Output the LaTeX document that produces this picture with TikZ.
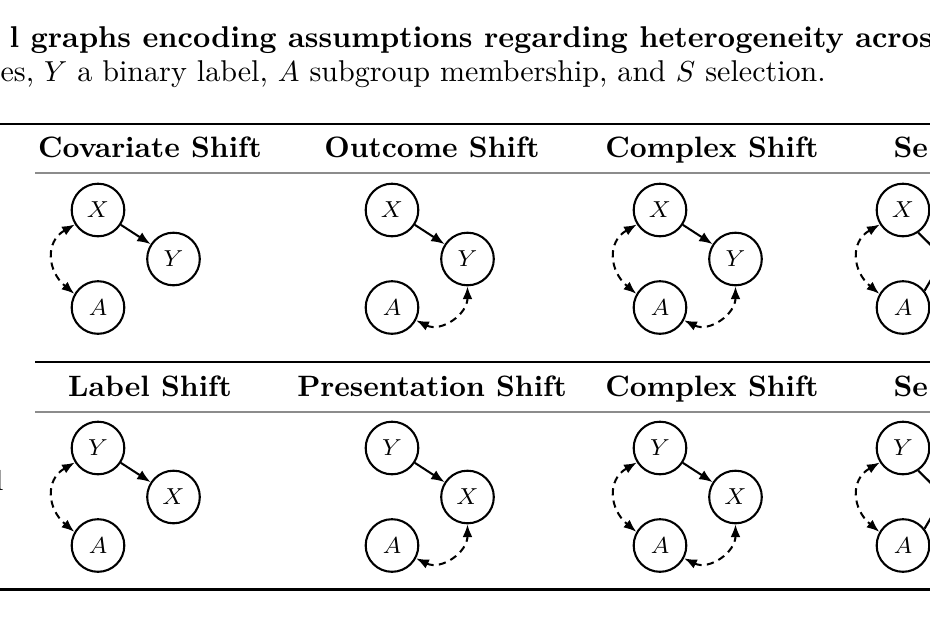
\documentclass[tikz,border=0pt]{standalone}
\usetikzlibrary{arrows.meta}
\begin{document}
\begin{tikzpicture}[x=0.3459pt,y=0.3459pt,
  var/.style={circle,draw,line width=0.72pt,minimum size=18.2pt,inner sep=0pt,font=\fontsize{8.5}{10}\selectfont},
  edge/.style={line width=0.7pt,-{Latex[length=4.6pt,width=3.6pt]}},
  biedge/.style={line width=0.7pt,dash pattern=on 2.5pt off 1.8pt,{Latex[length=4.4pt,width=3.4pt]}-{Latex[length=4.4pt,width=3.4pt]}},
  plainedge/.style={line width=0.75pt},
  hdr/.style={font=\fontsize{10.2}{12}\bfseries,anchor=base,inner sep=0pt},
  captext/.style={anchor=base west,inner sep=0pt,font=\fontsize{10.4}{12.5}\selectfont},
  heavyrule/.style={line width=0.85pt},
  lightrule/.style={line width=0.5pt,black!45},
  darkrule/.style={line width=0.6pt}]
\useasboundingbox (0,0) rectangle (930,-620);
\clip (0,0) rectangle (930,-620);
% caption text
\node[captext,font=\fontsize{10.4}{12.5}\bfseries] (title) at (9,-47) {l graphs encoding assumptions regarding heterogeneity across};
\node[captext] (cap) at (0,-81) {es, $Y$ a binary label, $A$ subgroup membership, and $S$ selection.};
% rules
\draw[heavyrule] (0,-124) -- (930,-124);
\draw[lightrule] (35,-173) -- (930,-173);
\draw[darkrule] (35,-362) -- (930,-362);
\draw[lightrule] (35,-412) -- (930,-412);
\draw[heavyrule] (0,-589.5) -- (930,-589.5);
% row label (cut by the frame, as in the reference)
\node[anchor=base east,inner sep=0pt] (rowlab) at (4,-490) {l};
% headers
\node[hdr] (h1) at (150,-157) {Covariate Shift};
\node[hdr] (h2) at (432,-157) {Outcome Shift};
\node[hdr] (h3) at (712,-157) {Complex Shift};
\node[hdr,anchor=base west] (h4) at (893,-157) {Se};
\node[hdr] (k1) at (150,-396) {Label Shift};
\node[hdr] (k2) at (432,-396) {Presentation Shift};
\node[hdr] (k3) at (712,-396) {Complex Shift};
\node[hdr,anchor=base west] (k4) at (893,-396) {Se};
% ---------- top row ----------
% col 1
\node[var] (X1) at (98,-210) {$X$};
\node[var] (Y1) at (173.5,-259) {$Y$};
\node[var] (A1) at (98,-307.5) {$A$};
\draw[edge] (X1) -- (Y1);
\draw[biedge] (X1.212) .. controls +(210:35) and +(140:35) .. (A1.150);
% col 2
\node[var] (X2) at (392,-210) {$X$};
\node[var] (Y2) at (467.5,-259) {$Y$};
\node[var] (A2) at (392,-307.5) {$A$};
\draw[edge] (X2) -- (Y2);
\draw[biedge] (A2.332) .. controls +(-26:28) and +(270:28) .. (Y2.270);
% col 3
\node[var] (X3) at (660,-210) {$X$};
\node[var] (Y3) at (735.5,-259) {$Y$};
\node[var] (A3) at (660,-307.5) {$A$};
\draw[edge] (X3) -- (Y3);
\draw[biedge] (X3.212) .. controls +(210:35) and +(140:35) .. (A3.150);
\draw[biedge] (A3.332) .. controls +(-26:28) and +(270:28) .. (Y3.270);
% col 4 (cut)
\node[var] (X4) at (903,-210) {$X$};
\node[var] (A4) at (903,-307.5) {$A$};
\coordinate (S4a) at (950,-264);
\coordinate (S4b) at (945,-256);
\draw[biedge] (X4.212) .. controls +(210:35) and +(140:35) .. (A4.150);
\draw[plainedge] (X4.-56) -- (S4a);
\draw[plainedge] (A4.38) -- (S4b);
% ---------- bottom row ----------
% col 1
\node[var] (P1) at (98,-448) {$Y$};
\node[var] (Q1) at (173.5,-497) {$X$};
\node[var] (B1) at (98,-545.5) {$A$};
\draw[edge] (P1) -- (Q1);
\draw[biedge] (P1.212) .. controls +(210:35) and +(140:35) .. (B1.150);
% col 2
\node[var] (P2) at (392,-448) {$Y$};
\node[var] (Q2) at (467.5,-497) {$X$};
\node[var] (B2) at (392,-545.5) {$A$};
\draw[edge] (P2) -- (Q2);
\draw[biedge] (B2.332) .. controls +(-26:28) and +(270:28) .. (Q2.270);
% col 3
\node[var] (P3) at (660,-448) {$Y$};
\node[var] (Q3) at (735.5,-497) {$X$};
\node[var] (B3) at (660,-545.5) {$A$};
\draw[edge] (P3) -- (Q3);
\draw[biedge] (P3.212) .. controls +(210:35) and +(140:35) .. (B3.150);
\draw[biedge] (B3.332) .. controls +(-26:28) and +(270:28) .. (Q3.270);
% col 4 (cut)
\node[var] (P4) at (903,-448) {$Y$};
\node[var] (B4) at (903,-545.5) {$A$};
\coordinate (T4a) at (950,-502);
\coordinate (T4b) at (945,-494);
\draw[biedge] (P4.212) .. controls +(210:35) and +(140:35) .. (B4.150);
\draw[plainedge] (P4.-56) -- (T4a);
\draw[plainedge] (B4.38) -- (T4b);
\end{tikzpicture}
\end{document}
